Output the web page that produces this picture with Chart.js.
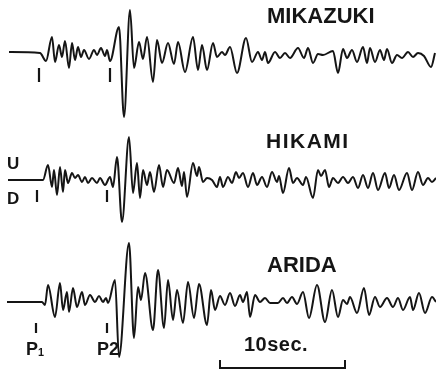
<!DOCTYPE html>
<html>
<head>
<meta charset="utf-8">
<script src="https://cdn.jsdelivr.net/npm/chart.js@4"></script>
<style>
  html, body { margin: 0; padding: 0; background: #fff; }
  .wrap { position: relative; width: 436px; height: 376px; }
  .wrap canvas { position: absolute; left: 0; top: 0; }
  .lbl {
    position: absolute;
    font-family: "Liberation Sans", Arial, sans-serif;
    font-weight: bold;
    color: #151515;
    line-height: 1;
    white-space: nowrap;
  }
  .lbl sub { font-size: 0.6em; vertical-align: -0.1em; }
</style>
</head>
<body>
<div class="wrap">
  <canvas id="seis" width="436" height="376"></canvas>
  <div class="lbl" style="left:267px;top:5px;font-size:22px">MIKAZUKI</div>
  <div class="lbl" style="left:266px;top:130px;font-size:21px;letter-spacing:1.5px">HIKAMI</div>
  <div class="lbl" style="left:267px;top:254px;font-size:22px">ARIDA</div>
  <div class="lbl" style="left:7px;top:155px;font-size:17px">U</div>
  <div class="lbl" style="left:7px;top:190px;font-size:17px">D</div>
  <div class="lbl" style="left:26px;top:340px;font-size:18px">P<sub>1</sub></div>
  <div class="lbl" style="left:97px;top:340px;font-size:18px">P2</div>
  <div class="lbl" style="left:244px;top:334px;font-size:20px;letter-spacing:0.5px">10sec.</div>
</div>
<script>
// time in seconds from start of record, amplitude in record units (up = positive)
// values are the turning points of each trace
const mikazukiT = [0.08, 2.56, 3.04, 3.52, 3.76, 4.08, 4.32, 4.56, 4.88, 5.12, 5.36, 5.6, 5.84, 6.08, 6.48, 6.88, 7.12, 7.44, 7.76, 7.92, 8.16, 8.88, 9.28, 9.76, 10.08, 10.48, 10.8, 11.12, 11.6, 11.92, 12.32, 12.8, 13.28, 13.6, 14.16, 14.8, 15.2, 15.52, 15.92, 16.4, 16.72, 17.12, 17.36, 17.76, 18.32, 19.04, 19.52, 20.0, 20.32, 20.56, 20.8, 21.36, 21.76, 22.16, 22.56, 23.2, 23.68, 24.0, 24.4, 24.8, 25.2, 26.0, 26.4, 26.8, 27.12, 27.52, 27.92, 28.4, 28.72, 28.96, 29.36, 29.76, 30.08, 30.32, 30.72, 31.12, 31.52, 32.0, 32.4, 32.8, 33.28, 33.84, 34.16];
const mikazukiA = [0, -1, -9, 15, -10, 7, -5, 11, -16, 9, -8, 5, -5, 2, -7, 2, -3, 4, -4, 2, -9, 25, -65, 42, -16, 10, -7, 15, -30, 12, -11, 9, -12, 10, -20, 15, -18, 7, -18, 9, -5, 0, -3, 5, -21, 14, -10, 0, -8, 0, -11, 0, -6, -1, -6, 4, -6, 4, -11, -2, -3, 1, -21, 3, -6, 2, -10, 5, -11, 4, -10, 2, -8, 3, -11, -3, -6, 0, -5, -1, -4, -15, -1];

const hikamiT = [0, 2.8, 3.2, 3.52, 3.68, 3.92, 4.16, 4.4, 4.56, 4.8, 5.12, 5.36, 5.6, 5.92, 6.16, 6.4, 6.72, 7.12, 7.36, 7.76, 8.16, 8.4, 8.72, 9.12, 9.68, 10.0, 10.32, 10.56, 10.8, 11.12, 11.36, 11.68, 12.08, 12.4, 12.72, 13.28, 13.6, 13.92, 14.08, 14.32, 14.8, 15.12, 15.28, 15.6, 15.92, 16.32, 16.72, 16.96, 17.2, 17.6, 17.92, 18.24, 18.48, 18.8, 19.2, 19.6, 19.92, 20.32, 20.72, 21.12, 21.52, 21.68, 22.0, 22.48, 22.8, 23.12, 23.6, 23.84, 24.4, 24.8, 25.04, 25.36, 25.68, 26.0, 26.4, 26.8, 27.2, 27.6, 28.0, 28.4, 28.8, 29.2, 29.6, 30.16, 30.48, 30.88, 31.28, 31.92, 32.32, 32.8, 33.2, 33.6, 33.92, 34.24];
const hikamiA = [0, 0, 15, -7, 10, -15, 13, -12, 10, -3, 7, 2, 5, -2, 3, -3, 2, -3, 2, -5, 3, -7, 23, -42, 43, -13, 17, -18, 10, -5, 8, -12, 15, -7, 10, -3, 12, -6, 8, -17, 17, 4, 13, -2, 2, 0, -7, 3, -7, 3, -3, 8, 2, 7, -7, 7, -5, 3, -7, 8, -2, 4, -13, 12, -3, 2, -5, 3, -18, 10, 4, 10, -7, 2, -3, 3, -3, 3, -8, 5, -8, 7, -10, 7, -8, 5, -10, 7, -10, 8, -5, 2, -2, 2];

const aridaT = [-0.08, 2.72, 2.96, 3.2, 3.76, 4.16, 4.4, 4.72, 4.88, 5.2, 5.52, 5.92, 6.16, 6.56, 6.96, 7.28, 7.6, 7.84, 8.0, 8.56, 8.88, 9.68, 10.08, 10.4, 10.64, 10.96, 11.6, 12.0, 12.48, 12.8, 13.2, 13.52, 14.0, 14.4, 14.88, 15.28, 15.92, 16.24, 16.56, 16.96, 17.36, 17.76, 18.16, 18.56, 18.8, 19.12, 19.36, 19.76, 20.16, 20.56, 20.96, 21.6, 22.0, 22.32, 22.72, 23.12, 23.6, 24.08, 24.72, 25.36, 25.92, 26.4, 26.8, 27.12, 27.36, 27.92, 28.48, 28.88, 29.36, 29.76, 30.32, 30.8, 31.2, 31.6, 32.16, 32.4, 32.88, 33.36, 33.92, 34.24];
const aridaA = [0, 0, -3, 17, -15, 19, -8, 10, -10, 14, -5, 10, -3, 7, 0, 6, 0, 4, -1, 22, -55, 59, -36, 15, 2, 29, -28, 32, -26, 22, -18, 12, -21, 20, -16, 18, -23, 12, -8, 6, -3, 9, -4, 7, 0, 10, -15, 7, 0, 4, -1, -1, 4, -1, 5, -2, 10, -16, 17, -20, 12, -15, 2, -2, 5, -11, 14, -13, 5, -5, 4, -5, 4, -8, 5, -8, 9, -11, 5, 0];

// P1 / P2 arrival marks (s), one per station
const arrivalP1 = [2.48, 2.32, 2.24];
const arrivalP2 = [8.16, 7.92, 7.92];

// time scale bar
const scaleBarStart = 16.96;
const scaleBarSeconds = 10;

// layout: vertical position of each trace baseline, tick mark extents
const baselines = [-52, -180, -302];
const tickSpan = [[-16, -30], [-10, -22], [-21, -31]];
const ink = '#151515';

const traces = [
  [mikazukiT, mikazukiA],
  [hikamiT, hikamiA],
  [aridaT, aridaA]
];

const datasets = [];
traces.forEach(([t, a], i) => {
  datasets.push({
    data: t.map((x, k) => ({ x: x, y: baselines[i] + a[k] })),
    borderColor: ink,
    borderWidth: 2,
    cubicInterpolationMode: 'monotone',
    pointRadius: 0
  });
  [arrivalP1[i], arrivalP2[i]].forEach(at => {
    datasets.push({
      data: [
        { x: at, y: baselines[i] + tickSpan[i][0] },
        { x: at, y: baselines[i] + tickSpan[i][1] }
      ],
      borderColor: ink,
      borderWidth: 2.2,
      tension: 0,
      pointRadius: 0
    });
  });
});

datasets.push({
  data: [
    { x: scaleBarStart, y: -360 },
    { x: scaleBarStart, y: -368 },
    { x: scaleBarStart + scaleBarSeconds, y: -368 },
    { x: scaleBarStart + scaleBarSeconds, y: -360 }
  ],
  borderColor: ink,
  borderWidth: 2,
  tension: 0,
  pointRadius: 0
});

new Chart(document.getElementById('seis').getContext('2d'), {
  type: 'line',
  data: { datasets: datasets },
  options: {
    responsive: false,
    animation: false,
    layout: { padding: 0 },
    plugins: {
      legend: { display: false },
      tooltip: { enabled: false }
    },
    scales: {
      x: { type: 'linear', min: -0.64, max: 34.24, display: false },
      y: { type: 'linear', min: -376, max: 0, display: false }
    }
  }
});
</script>
</body>
</html>
